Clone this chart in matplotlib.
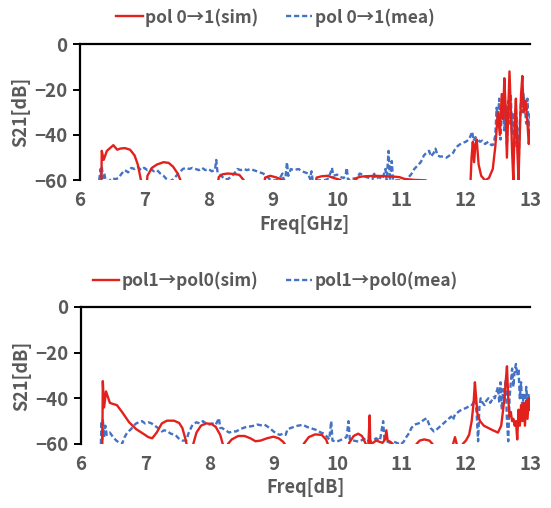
import matplotlib
matplotlib.use("Agg")
import matplotlib.pyplot as plt
from matplotlib.lines import Line2D

FONT = ["Noto Sans CJK JP", "DejaVu Sans"]
TEXT = "#595959"
RED = "#E3211C"
BLUE = "#4472C4"

plt.rcParams["font.family"] = FONT
plt.rcParams["font.weight"] = "bold"
plt.rcParams["axes.labelweight"] = "bold"
plt.rcParams["text.color"] = TEXT
plt.rcParams["xtick.color"] = TEXT
plt.rcParams["ytick.color"] = "black"
plt.rcParams["ytick.labelcolor"] = TEXT
plt.rcParams["axes.labelcolor"] = TEXT

# ---------------------------------------------------------------- data
# values below -60 dB lie off the bottom of the plot (Excel clips them)
top_sim_f = [6.33, 6.34, 6.37, 6.42, 6.46, 6.52, 6.58, 6.63, 6.70, 6.78, 6.85, 6.90, 6.95, 6.98,
             7.02, 7.05, 7.12, 7.20, 7.30, 7.38, 7.45, 7.52, 7.58, 7.62,
             8.10, 8.16, 8.22, 8.30, 8.40, 8.48, 8.55, 8.60,
             8.82, 8.88, 8.96, 9.05, 9.12, 9.20, 9.24,
             9.62, 9.68, 9.76, 9.85, 9.95, 10.05, 10.10,
             10.22, 10.28, 10.36, 10.45, 10.60, 10.75, 10.90, 10.97, 11.05, 11.20, 11.38, 11.40,
             12.06, 12.09, 12.11, 12.13, 12.15, 12.17, 12.20, 12.24, 12.30, 12.36, 12.42, 12.46,
             12.50, 12.53, 12.56, 12.58, 12.60, 12.62, 12.64, 12.66, 12.68, 12.70, 12.72, 12.74,
             12.76, 12.78, 12.80, 12.82, 12.84, 12.86, 12.88, 12.90, 12.93, 12.96, 12.98, 13.00]
top_sim_db = [-70, -47, -51, -47, -46, -44.5, -46.5, -46, -45.8, -46.5, -49, -53, -60, -70,
              -70, -58, -54.5, -53, -52, -52.3, -54, -57, -61, -70,
              -70, -58.5, -57.3, -57, -57.2, -57.6, -60, -70,
              -70, -58.8, -58, -58.7, -59.4, -60.5, -70,
              -70, -58.8, -58.2, -58, -59, -59.8, -70,
              -70, -59.2, -58.4, -58.2, -58, -58.2, -58.4, -58.6, -59.4, -59.8, -60, -70,
              -70, -50, -43, -52, -44, -42, -53, -58, -60, -59, -55, -45,
              -30, -40, -22, -33, -15, -28, -50, -30, -12, -28, -47, -60,
              -35, -24, -45, -60, -40, -22, -14, -30, -25, -35, -44, -38]

top_mea_f = [6.30, 6.32, 6.33, 6.34, 6.36, 6.38, 6.40, 6.45, 6.50, 6.55, 6.60, 6.65, 6.70, 6.75,
             6.80, 6.85, 6.90, 6.95, 7.00, 7.05, 7.10, 7.15, 7.20, 7.25, 7.30, 7.35, 7.40, 7.45,
             7.50, 7.55, 7.60, 7.65, 7.70, 7.75, 7.80, 7.85, 7.90, 7.95, 8.00, 8.05, 8.10, 8.12,
             8.14, 8.20, 8.25, 8.30, 8.35, 8.40, 8.45, 8.50, 8.55, 8.60, 8.65, 8.70, 8.75, 8.80,
             8.85, 8.90, 8.95, 9.00, 9.05, 9.10, 9.15, 9.17, 9.20, 9.22, 9.24, 9.28, 9.32, 9.40,
             9.45, 9.50, 9.55, 9.58, 9.60, 9.62, 9.70, 9.80, 9.85, 9.90, 9.92, 9.94, 10.00, 10.05,
             10.10, 10.13, 10.15, 10.17, 10.22, 10.30, 10.35, 10.40, 10.45, 10.50, 10.55, 10.57,
             10.60, 10.65, 10.70, 10.73, 10.75, 10.77, 10.80, 10.82, 10.85, 10.87, 10.95, 11.00,
             11.05, 11.10, 11.15, 11.20, 11.25, 11.30, 11.35, 11.40, 11.43, 11.46, 11.50, 11.53,
             11.56, 11.60, 11.65, 11.70, 11.75, 11.80, 11.83, 11.87, 11.90, 11.95, 12.00, 12.05,
             12.08, 12.10, 12.12, 12.15, 12.19, 12.22, 12.26, 12.30, 12.35, 12.40, 12.43, 12.46,
             12.48, 12.50, 12.52, 12.54, 12.56, 12.58, 12.60, 12.62, 12.64, 12.66, 12.68, 12.70,
             12.72, 12.74, 12.76, 12.78, 12.80, 12.82, 12.84, 12.86, 12.88, 12.90, 12.92, 12.94,
             12.96, 12.98, 13.00]
top_mea_db = [-60, -55, -59, -54, -59, -57, -60, -60.5, -59, -59.5, -59, -57, -55.5, -56.5,
              -54.5, -55, -54, -55.5, -54.5, -55.5, -55, -56, -55.5, -57, -58, -59.5, -60.5, -59.5,
              -58, -56.5, -55, -54.5, -55, -54.5, -55, -55.5, -54.5, -55.5, -55, -56, -55.5, -51,
              -56.5, -58, -59.5, -59.5, -58.5, -57, -55, -55.5, -55, -55.5, -55, -55.5, -56, -56.5,
              -57, -58, -59.5, -60, -60, -59.5, -57, -60, -58, -52, -58, -55, -55.5, -55,
              -56, -56.5, -57, -59.5, -56, -60, -60, -60, -59.5, -56.5, -54.5, -58, -57.5, -58.5,
              -59, -58, -54.5, -60, -59, -59.5, -57, -57.5, -58.5, -59, -59.5, -56.5,
              -59.5, -58.5, -59.5, -57, -55, -60, -47, -60, -51.5, -60, -60, -60,
              -60.5, -59, -57.4, -55, -53.5, -52, -49, -47.5, -47, -49.5, -48, -46,
              -49, -49.5, -49.5, -50, -49, -48, -46.5, -45, -44.3, -43.5, -43, -42,
              -40, -38.5, -42.5, -41, -42, -43, -42.5, -44, -43, -44.5, -44.3, -40,
              -28, -35, -24, -42, -30, -22, -38, -27, -45, -25, -35, -22,
              -40, -30, -45, -28, -38, -55, -35, -25, -30, -22, -28, -35,
              -24, -40, -30]

bot_sim_f = [6.33, 6.34, 6.36, 6.39, 6.45, 6.50, 6.56, 6.64, 6.75, 6.86, 6.97, 7.05, 7.11, 7.18,
             7.26, 7.34, 7.45, 7.53, 7.58, 7.63, 7.66, 7.67,
             7.72, 7.75, 7.80, 7.87, 7.95, 8.03, 8.10, 8.17, 8.22, 8.23,
             8.28, 8.29, 8.35, 8.45, 8.55, 8.64, 8.72, 8.80, 8.90, 9.00, 9.08, 9.15, 9.20, 9.21,
             9.44, 9.47, 9.55, 9.65, 9.75, 9.82, 9.86, 9.87,
             10.15, 10.18, 10.25, 10.32, 10.38, 10.44, 10.46, 10.48, 10.50, 10.51, 10.55, 10.60,
             10.65, 10.70, 10.74, 10.76, 10.78, 10.82, 10.86, 10.88,
             11.20, 11.23, 11.28, 11.35, 11.43, 11.48, 11.50,
             11.78, 11.80, 11.83, 11.86, 11.88,
             11.93, 11.95, 12.00, 12.05, 12.09, 12.12, 12.14, 12.16, 12.18, 12.22, 12.28, 12.35,
             12.42, 12.50, 12.55, 12.58, 12.60, 12.62, 12.64, 12.66, 12.68, 12.70, 12.72, 12.74,
             12.76, 12.78, 12.80, 12.82, 12.84, 12.86, 12.88, 12.90, 12.92, 12.94, 12.96, 12.98,
             13.00]
bot_sim_db = [-70, -32.5, -44, -37, -42, -42.5, -43, -46, -50.5, -53.5, -55.5, -57, -57.5, -55,
              -51, -49.8, -49.8, -50.8, -53, -58, -62, -70,
              -70, -60, -55, -52, -51, -51.2, -52.5, -56, -61, -70,
              -70, -60, -58, -56.5, -56.5, -57.5, -58.8, -58.5, -57.5, -56.8, -57.5, -59, -61, -70,
              -70, -60, -57, -55.8, -56, -58, -61, -70,
              -70, -59.5, -56.5, -55.5, -56.5, -60, -62, -60, -47.5, -60, -59.5, -58.5,
              -59, -59.5, -58, -54, -58.5, -59, -60, -70,
              -70, -60, -58.5, -58, -58.5, -60, -70,
              -70, -60, -57, -60.5, -70,
              -70, -60, -58.5, -56, -50, -42, -33, -40, -47, -50, -52, -53,
              -54, -55, -52, -45, -40, -33, -26, -40, -48, -46, -50, -49,
              -52, -50, -58, -45, -52, -43, -50, -42, -52, -41, -49, -40,
              -45]

bot_mea_f = [6.31, 6.32, 6.33, 6.34, 6.36, 6.38, 6.40, 6.45, 6.50, 6.55, 6.60, 6.64, 6.68, 6.72,
             6.78, 6.82, 6.86, 6.90, 6.95, 7.00, 7.05, 7.10, 7.15, 7.20, 7.26, 7.30, 7.35, 7.40,
             7.47, 7.52, 7.58, 7.64, 7.68, 7.74, 7.80, 7.85, 7.90, 7.95, 8.00, 8.05, 8.10, 8.15,
             8.17, 8.20, 8.25, 8.31, 8.36, 8.42, 8.48, 8.53, 8.58, 8.64, 8.70, 8.75, 8.80, 8.86,
             8.94, 9.00, 9.05, 9.10, 9.15, 9.19, 9.22, 9.27, 9.32, 9.38, 9.46, 9.52, 9.57, 9.63,
             9.68, 9.74, 9.79, 9.84, 9.87, 9.90, 9.92, 9.98, 10.03, 10.10, 10.14, 10.17, 10.19,
             10.25, 10.33, 10.40, 10.44, 10.49, 10.55, 10.60, 10.66, 10.71, 10.73, 10.78, 10.82,
             10.88, 10.93, 10.98, 11.03, 11.07, 11.12, 11.15, 11.20, 11.26, 11.30, 11.34, 11.39,
             11.42, 11.45, 11.50, 11.53, 11.57, 11.61, 11.65, 11.69, 11.73, 11.77, 11.80, 11.83,
             11.86, 11.90, 11.94, 11.98, 12.02, 12.06, 12.10, 12.13, 12.15, 12.17, 12.19, 12.21,
             12.23, 12.26, 12.29, 12.32, 12.35, 12.38, 12.40, 12.43, 12.45, 12.48, 12.50, 12.52,
             12.54, 12.56, 12.58, 12.60, 12.62, 12.64, 12.66, 12.68, 12.70, 12.72, 12.74, 12.76,
             12.78, 12.80, 12.82, 12.84, 12.86, 12.88, 12.90, 12.92, 12.94, 12.96, 12.98, 13.00]
bot_mea_db = [-60, -50, -58, -49, -57, -52, -56, -55, -57, -58.5, -59.5, -60, -57, -55,
              -53.5, -52, -51, -50.5, -50, -51, -50.5, -51, -52, -53, -54.5, -54, -54.5, -55.5,
              -56, -57.5, -58.5, -58.5, -55, -51.5, -50.5, -51, -50, -51, -51.5, -51, -51.6, -48.7,
              -53, -53, -54, -55, -54.5, -54.5, -53.5, -53, -52.5, -52.3, -52, -51.5, -51.8, -51.5,
              -53, -54.5, -55.5, -56, -55.5, -56, -53.5, -53, -52.5, -52, -51.6, -52.5, -53, -53.5,
              -54, -55, -55.5, -57, -58, -50, -58.5, -59, -58.5, -57.5, -57, -50, -58,
              -58.5, -59, -58, -57.5, -59, -58.5, -57.5, -58.5, -50, -58.5, -59, -59.5,
              -59, -59.6, -60.3, -59, -57, -55, -53, -51.5, -51, -50.5, -49.5, -48.7,
              -51, -53, -54.5, -54, -53, -52, -51, -50, -49, -48, -49.5, -47,
              -46.5, -45.5, -45, -44.5, -44, -43, -42.9, -41, -40.5, -48, -58.8, -44,
              -40, -42, -43, -41, -40, -42, -41, -39.5, -40, -37, -35, -42,
              -33, -45, -36, -40, -32, -50, -58.8, -40, -33, -27, -35, -28,
              -25, -30, -27, -40, -33, -45, -38, -48, -35, -42, -38, -40]

panels = [
    (top_sim_f, top_sim_db, top_mea_f, top_mea_db,
     "pol 0\u21921(sim)", "pol 0\u21921(mea)", "Freq[GHz]"),
    (bot_sim_f, bot_sim_db, bot_mea_f, bot_mea_db,
     "pol1\u2192pol0(sim)", "pol1\u2192pol0(mea)", "Freq[dB]"),
]

# ---------------------------------------------------------------- figure
fig = plt.figure(figsize=(5.51, 5.08), dpi=100, facecolor="white")
# [left, bottom, width, height] in figure fraction
rects = [[0.145, 0.645, 0.817, 0.268], [0.147, 0.126, 0.815, 0.270]]
legend_y = [0.966, 0.448]
DASH = (0, (2.2, 1.2))

for rect, ly, (sf, sdb, mf, mdb, lab_s, lab_m, xlab) in zip(rects, legend_y, panels):
    ax = fig.add_axes(rect)
    ax.plot(sf, sdb, color=RED, lw=1.7, zorder=3)
    ax.plot(mf, mdb, color=BLUE, lw=1.7, linestyle=DASH, zorder=2)
    ax.set_xlim(6, 13)
    ax.set_ylim(-60, 0)
    ax.set_xticks(range(6, 14))
    ax.set_yticks([-60, -40, -20, 0])
    for s in ("bottom", "right"):
        ax.spines[s].set_visible(False)
    for s in ("top", "left"):
        ax.spines[s].set_linewidth(1.6)
        ax.spines[s].set_color("black")
    ax.tick_params(axis="x", length=0, pad=8, labelsize=13.5)
    ax.tick_params(axis="y", direction="out", length=5, width=1.4, pad=4, labelsize=13.5)
    ax.set_xlabel(xlab, fontsize=13, labelpad=3)
    ax.set_ylabel("S21[dB]", fontsize=13, labelpad=3)

    handles = [Line2D([], [], color=RED, lw=1.7),
               Line2D([], [], color=BLUE, lw=1.7, linestyle=DASH)]
    fig.legend(handles, [lab_s, lab_m], loc="center", bbox_to_anchor=(0.5, ly),
               ncol=2, frameon=False, fontsize=12.5, handlelength=1.5,
               handletextpad=0.15, columnspacing=1.6)

fig.savefig("out.png", dpi=100, facecolor="white")
